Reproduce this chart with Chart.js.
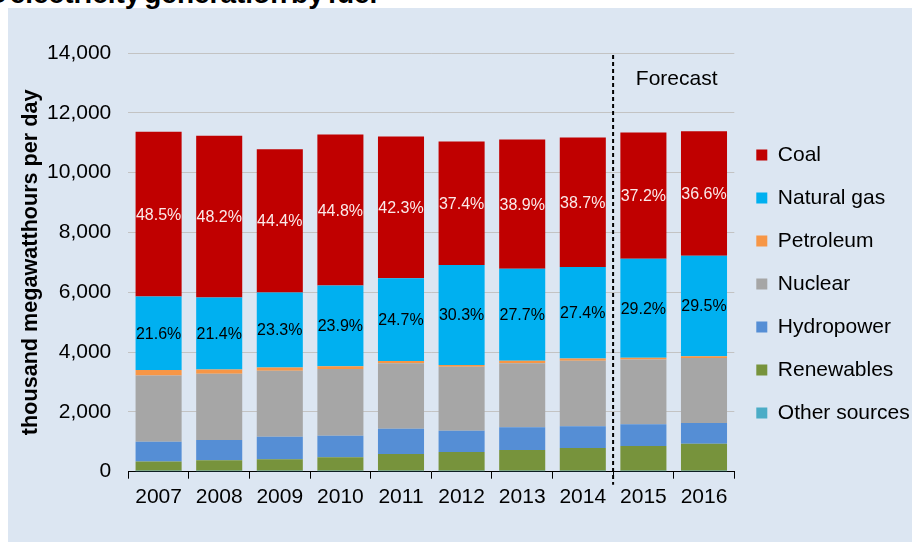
<!DOCTYPE html>
<html><head><meta charset="utf-8">
<script src="https://cdn.jsdelivr.net/npm/chart.js@4.4.1/dist/chart.umd.min.js"></script>
<style>
html,body{margin:0;padding:0;background:#fff;width:912px;height:542px;overflow:hidden;position:relative;font-family:"Liberation Sans",Arial,sans-serif;}
#panel{position:absolute;left:8px;top:8px;width:904px;height:534px;background:#dce6f2;}
#title{position:absolute;left:-33px;top:-20px;font-weight:bold;font-size:28px;line-height:28px;white-space:nowrap;color:#000;word-spacing:-4px;}
#c{position:absolute;left:0;top:0;}
</style></head><body>
<div id="panel"></div>
<div id="title">US electricity generation by fuel</div>
<canvas id="c" width="912" height="542"></canvas>
<script>
// ---- data (thousand megawatthours per day) ----
const years = ['2007','2008','2009','2010','2011','2012','2013','2014','2015','2016'];
const coal        = [5515, 5416, 4788, 5049, 4739, 4128, 4319, 4323, 4218, 4167];
const naturalGas  = [2456, 2405, 2512, 2694, 2767, 3344, 3076, 3061, 3311, 3359];
const petroleum   = [ 180,  145,  107,   95,   75,   55,   80,   80,   60,   60];
const nuclear     = [2220, 2211, 2205, 2229, 2185, 2139, 2144, 2189, 2164, 2170];
const hydropower  = [ 655,  679,  756,  722,  846,  712,  759,  725,  725,  693];
const renewables  = [ 310,  346,  380,  447,  557,  624,  691,  758,  825,  901];
const otherSources= [  35,   35,   35,   35,   35,   35,   35,   35,   35,   35];
const coalShare   = [48.5, 48.2, 44.4, 44.8, 42.3, 37.4, 38.9, 38.7, 37.2, 36.6];
const gasShare    = [21.6, 21.4, 23.3, 23.9, 24.7, 30.3, 27.7, 27.4, 29.2, 29.5];
const yTicks      = [0, 2000, 4000, 6000, 8000, 10000, 12000, 14000];
const forecastFrom = '2015';
const forecastLabel = 'Forecast';

const FONT = "'Liberation Sans', Arial, sans-serif";
Chart.defaults.font.family = FONT;
Chart.defaults.color = '#000';

const overlay = {
  id: 'overlay',
  afterDatasetsDraw(chart) {
    const ctx = chart.ctx;
    const xs = chart.scales.x;
    const area = chart.chartArea;
    ctx.save();
    ctx.font = '16px ' + FONT;
    ctx.textAlign = 'center';
    ctx.textBaseline = 'middle';
    const specs = [
      {ds: 6, vals: coalShare, color: '#fbeaea'},
      {ds: 5, vals: gasShare, color: '#000000'}
    ];
    specs.forEach(s => {
      const meta = chart.getDatasetMeta(s.ds);
      meta.data.forEach((bar, i) => {
        ctx.fillStyle = s.color;
        ctx.fillText(s.vals[i].toFixed(1) + '%', bar.x, (bar.y + bar.base) / 2 + 1);
      });
    });
    // forecast divider
    const fi = years.indexOf(forecastFrom);
    const xd = (xs.getPixelForValue(fi - 1) + xs.getPixelForValue(fi)) / 2;
    ctx.strokeStyle = '#000';
    ctx.lineWidth = 2;
    ctx.setLineDash([4, 3]);
    ctx.beginPath();
    ctx.moveTo(xd, area.top + 2);
    ctx.lineTo(xd, area.bottom + 13);
    ctx.stroke();
    ctx.setLineDash([]);
    // forecast label
    const xl = (xs.getPixelForValue(fi) + xs.getPixelForValue(years.length - 1)) / 2 + 3;
    ctx.font = '21px ' + FONT;
    ctx.fillStyle = '#000';
    ctx.fillText(forecastLabel, xl, area.top + 26);
    ctx.restore();
  }
};

new Chart(document.getElementById('c'), {
  type: 'bar',
  data: {
    labels: years,
    datasets: [
      {label: 'Other sources', data: otherSources, backgroundColor: '#4bacc6'},
      {label: 'Renewables', data: renewables, backgroundColor: '#77933c'},
      {label: 'Hydropower', data: hydropower, backgroundColor: '#558ed5'},
      {label: 'Nuclear', data: nuclear, backgroundColor: '#a6a6a6'},
      {label: 'Petroleum', data: petroleum, backgroundColor: '#f79646'},
      {label: 'Natural gas', data: naturalGas, backgroundColor: '#00b0f0'},
      {label: 'Coal', data: coal, backgroundColor: '#c00000'}
    ]
  },
  options: {
    responsive: false,
    animation: false,
    devicePixelRatio: 1,
    layout: {padding: {left: 0, right: 0, top: 53, bottom: 27}},
    datasets: {bar: {barPercentage: 0.76, categoryPercentage: 1, borderWidth: 0}},
    scales: {
      x: {
        stacked: true,
        grid: {display: true, offset: true, drawOnChartArea: false, drawTicks: true, tickLength: 7, color: '#000', lineWidth: 1},
        border: {display: true, color: '#000', width: 1},
        ticks: {font: {size: 21}, color: '#000', padding: 6, maxRotation: 0, autoSkip: false},
        afterFit(s) { s.height = 43.3; s.paddingLeft = 0; s.paddingRight = 0; }
      },
      y: {
        stacked: true,
        min: 0, max: 14000,
        afterBuildTicks(s) { s.ticks = yTicks.map(v => ({value: v})); },
        ticks: {font: {size: 21}, color: '#000', padding: 17},
        grid: {color: '#c3c3c3', drawTicks: false, lineWidth: 1},
        border: {display: false},
        title: {display: true, text: 'thousand megawatthours per day', font: {size: 21.6, weight: 'bold'}, color: '#000', padding: {top: 18, bottom: 0}},
        afterFit(s) { s.width = 128.3; s.paddingTop = 0; s.paddingBottom = 0; }
      }
    },
    plugins: {
      legend: {
        position: 'right', align: 'center', maxWidth: 177.7, reverse: true,
        labels: {boxWidth: 11, boxHeight: 11, padding: 22, font: {size: 21}, color: '#000'}
      },
      tooltip: {enabled: false}
    }
  },
  plugins: [overlay]
});
</script>
</body></html>
